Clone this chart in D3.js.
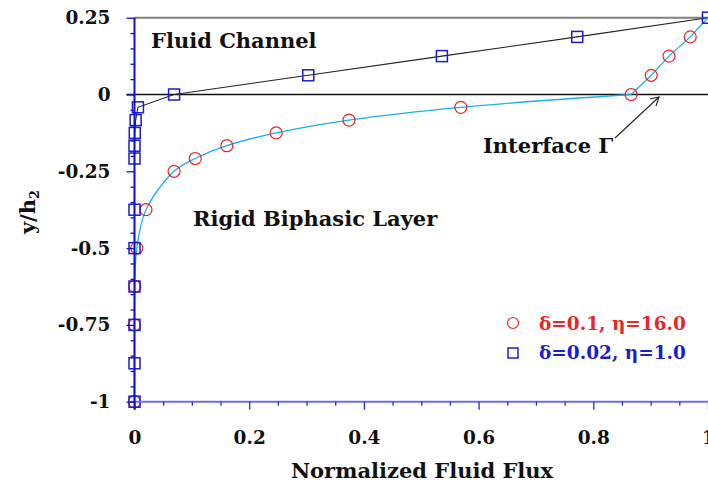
<!DOCTYPE html>
<html>
<head>
<meta charset="utf-8">
<script src="https://cdn.jsdelivr.net/npm/d3@7"></script>
<style>
  body { margin: 0; background: #fff; }
  svg { display: block; }
  text { font-family: "DejaVu Serif", serif; font-weight: bold; }
</style>
</head>
<body>
<div id="chart-area"></div>
<script>
// δ=0.1, η=16.0 (red circles, cyan line)
var redY = [0.25, 0.1875, 0.125, 0.0625, 0, -0.0417, -0.0833, -0.125, -0.1667, -0.2083, -0.25, -0.375, -0.5, -0.625, -0.75, -1];
var redX = [1.0, 0.969, 0.932, 0.901, 0.866, 0.569, 0.374, 0.247, 0.161, 0.106, 0.069, 0.020, 0.004, 0.0005, 0.0, 0.0];

// δ=0.02, η=1.0 (blue squares, black line)
var blueY = [0.25, 0.1875, 0.125, 0.0625, 0, -0.0417, -0.0833, -0.125, -0.1667, -0.2083, -0.375, -0.5, -0.625, -0.75, -0.875, -1];
var blueX = [1.0, 0.772, 0.536, 0.303, 0.069, 0.006, 0.002, 0.0005, 0.0, 0.0, 0.0, 0.0, 0.0, 0.0, 0.0, 0.0];

var xTicks = [0, 0.2, 0.4, 0.6, 0.8, 1];
var yTicks = [0.25, 0, -0.25, -0.5, -0.75, -1];
var legendLabels = ["δ=0.1, η=16.0", "δ=0.02, η=1.0"];

var W = 708, H = 485;

var svg = d3.select("#chart-area").append("svg")
  .attr("width", W)
  .attr("height", H);

var x = d3.scaleLinear().domain([0, 1]).range([134.5, 708]);
var y = d3.scaleLinear().domain([-1, 0.25]).range([401.7, 17.7]);

var red = redX.map(function (v, i) { return { x: v, y: redY[i] }; });
var blue = blueX.map(function (v, i) { return { x: v, y: blueY[i] }; });

/* top boundary of the channel and the interface line */
svg.append("line")
  .attr("x1", x(0)).attr("x2", x(1))
  .attr("y1", y(0.25)).attr("y2", y(0.25))
  .attr("stroke", "#808080").attr("stroke-width", 2);

svg.append("line")
  .attr("x1", x(0) - 8).attr("x2", x(1))
  .attr("y1", y(0)).attr("y2", y(0))
  .attr("stroke", "#111").attr("stroke-width", 1.5);

/* lines */
var line = d3.line()
  .x(function (d) { return x(d.x); })
  .y(function (d) { return y(d.y); });

svg.append("path")
  .attr("d", line(blue))
  .attr("fill", "none")
  .attr("stroke", "#222")
  .attr("stroke-width", 1.1);

// cyan: straight in the channel, smooth in the layer
svg.append("path")
  .attr("d", line(red.filter(function (d) { return d.y >= 0; })))
  .attr("fill", "none")
  .attr("stroke", "#1cb0ea")
  .attr("stroke-width", 1.3);

svg.append("path")
  .attr("d", line.curve(d3.curveCatmullRom.alpha(0.5))(red.filter(function (d) { return d.y <= 0; })))
  .attr("fill", "none")
  .attr("stroke", "#1cb0ea")
  .attr("stroke-width", 1.3);

/* markers */
svg.append("g").selectAll("circle")
  .data(red.slice(1)).enter()
  .append("circle")
  .attr("cx", function (d) { return x(d.x); })
  .attr("cy", function (d) { return y(d.y); })
  .attr("r", 6)
  .attr("fill", "none")
  .attr("stroke", "#e8262a")
  .attr("stroke-width", 1.2);

svg.append("g").selectAll("rect")
  .data(blue).enter()
  .append("rect")
  .attr("x", function (d) { return x(d.x) - 5.5; })
  .attr("y", function (d) { return y(d.y) - 5.5; })
  .attr("width", 11)
  .attr("height", 11)
  .attr("fill", "none")
  .attr("stroke", "#1c1cd0")
  .attr("stroke-width", 1.5);

/* axes */
var xAxis = d3.axisBottom(x)
  .tickValues(d3.range(0, 1.0001, 0.05))
  .tickSizeInner(4).tickSizeOuter(0)
  .tickFormat("");

var xAxisGroup = svg.append("g")
  .attr("transform", "translate(0," + y(-1) + ")")
  .call(xAxis);
xAxisGroup.select(".domain").attr("stroke", "#6e6ee8").attr("stroke-width", 2)
  .attr("d", "M" + (x(0) - 6) + ",0H" + x(1));
xAxisGroup.selectAll(".tick line").attr("stroke", "#2a2ad8").attr("stroke-width", 1.3)
  .attr("y2", function (d) { return Math.abs(d * 5 - Math.round(d * 5)) < 1e-6 ? 8 : 4; });

var xLabels = svg.append("g").attr("transform", "translate(0," + y(-1) + ")")
  .call(d3.axisBottom(x).tickValues(xTicks).tickSize(0).tickPadding(29)
    .tickFormat(function (d) { return String(d); }));
xLabels.select(".domain").remove();
xLabels.selectAll("text").attr("font-size", 18.5).attr("fill", "#111")
  .attr("font-family", "DejaVu Serif").attr("font-weight", "bold");

var yAxis = d3.axisLeft(y)
  .tickValues(d3.range(-1, 0.2501, 0.05))
  .tickSizeInner(4).tickSizeOuter(0)
  .tickFormat("");

var yAxisGroup = svg.append("g")
  .attr("transform", "translate(" + x(0) + ",0)")
  .call(yAxis);
yAxisGroup.select(".domain").attr("stroke", "#1010cc").attr("stroke-width", 2)
  .attr("d", "M0," + y(0.25) + "V" + (y(-1) + 8));
yAxisGroup.selectAll(".tick line").attr("stroke", "#1010cc").attr("stroke-width", 1.3)
  .attr("x2", function (d) { return Math.abs(d * 4 - Math.round(d * 4)) < 1e-6 ? -8 : -4; });

var yLabels = svg.append("g").attr("transform", "translate(" + x(0) + ",0)")
  .call(d3.axisLeft(y).tickValues(yTicks).tickSize(0).tickPadding(24)
    .tickFormat(function (d) { return String(d); }));
yLabels.select(".domain").remove();
yLabels.selectAll("text").attr("font-size", 18.5).attr("fill", "#111")
  .attr("font-family", "DejaVu Serif").attr("font-weight", "bold");

/* axis titles */
svg.append("text")
  .attr("x", 422).attr("y", 478)
  .attr("text-anchor", "middle")
  .attr("font-size", 21)
  .attr("fill", "#111")
  .text("Normalized Fluid Flux");

var yTitle = svg.append("text")
  .attr("transform", "translate(35,212) rotate(-90)")
  .attr("text-anchor", "middle")
  .attr("font-size", 21)
  .attr("fill", "#111");
yTitle.append("tspan").text("y/h");
yTitle.append("tspan").attr("font-size", 13).attr("dy", 4).text("2");

/* annotations */
svg.append("text")
  .attr("x", 151).attr("y", 48)
  .attr("font-size", 21).attr("fill", "#111")
  .text("Fluid Channel");

svg.append("text")
  .attr("x", 193).attr("y", 226)
  .attr("font-size", 21).attr("fill", "#111")
  .text("Rigid Biphasic Layer");

svg.append("text")
  .attr("x", 483).attr("y", 153)
  .attr("font-size", 21).attr("fill", "#111")
  .text("Interface Γ");

svg.append("line")
  .attr("x1", 615).attr("y1", 138)
  .attr("x2", 659).attr("y2", 97)
  .attr("stroke", "#222").attr("stroke-width", 1.1);
svg.append("path")
  .attr("d", "M650,99L659,97L656,106")
  .attr("fill", "none")
  .attr("stroke", "#222").attr("stroke-width", 1.1);

/* legend */
var legendColors = ["#e8262a", "#1c1cd0"];
var legend = svg.append("g");
legend.append("circle")
  .attr("cx", 513).attr("cy", 323).attr("r", 5.5)
  .attr("fill", "none").attr("stroke", legendColors[0]).attr("stroke-width", 1.2);
legend.append("rect")
  .attr("x", 508).attr("y", 348).attr("width", 10).attr("height", 10)
  .attr("fill", "none").attr("stroke", legendColors[1]).attr("stroke-width", 1.5);
legend.selectAll("text")
  .data(legendLabels).enter()
  .append("text")
  .attr("x", 539)
  .attr("y", function (d, i) { return 330 + i * 29; })
  .attr("font-size", 18.5)
  .attr("fill", function (d, i) { return legendColors[i]; })
  .text(function (d) { return d; });
</script>
</body>
</html>
